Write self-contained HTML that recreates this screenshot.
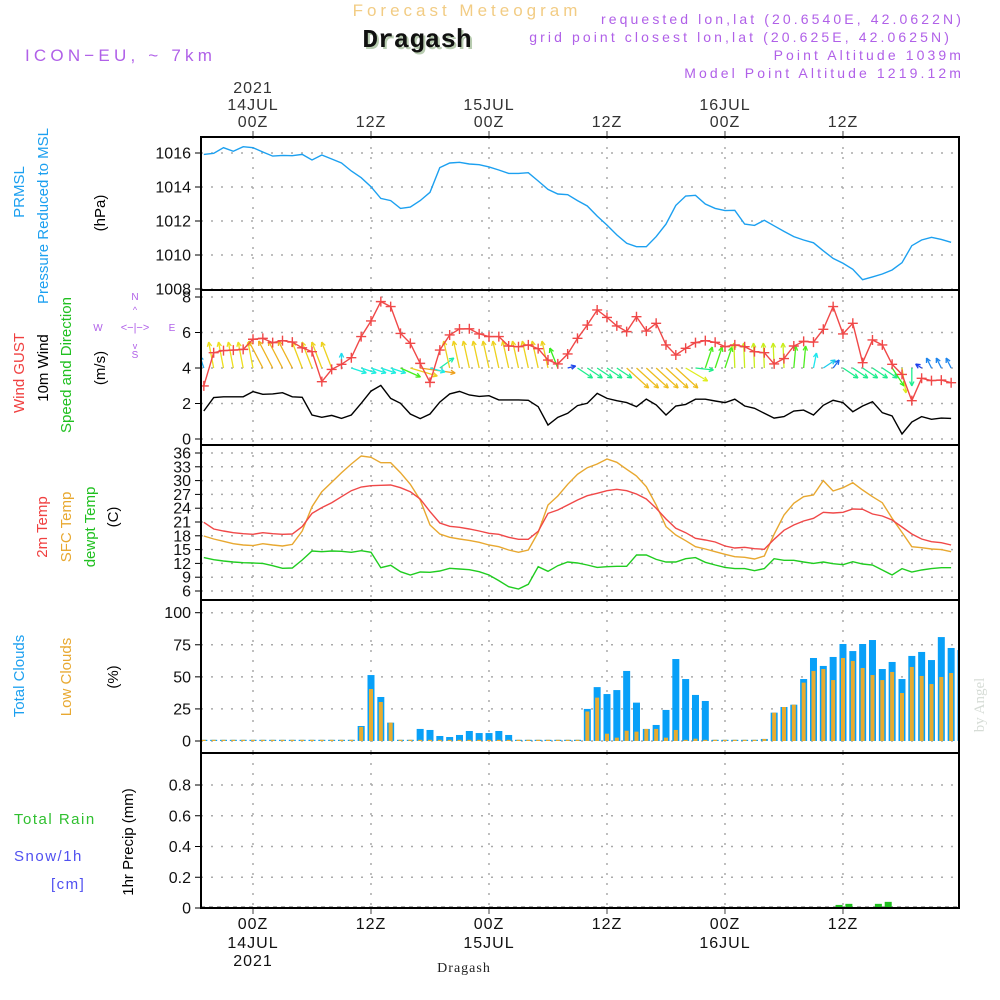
<!DOCTYPE html>
<html><head><meta charset="utf-8">
<style>
html,body{margin:0;padding:0;background:#fff;}
svg{display:block;}
text{font-family:"Liberation Sans",sans-serif;}
</style></head>
<body>
<svg id="chart" xmlns="http://www.w3.org/2000/svg" width="1000" height="1000" viewBox="0 0 1000 1000">
<g id="header">
<text x="467" y="16" text-anchor="middle" font-size="17" letter-spacing="4" fill="#f2cc84">Forecast Meteogram</text>
<text x="419" y="49" text-anchor="middle" font-size="26" font-weight="bold" fill="#b8ccb0" style="font-family:'Liberation Mono',monospace">Dragash</text>
<text x="417" y="47" text-anchor="middle" font-size="26" font-weight="bold" fill="#111" style="font-family:'Liberation Mono',monospace">Dragash</text>
<text x="25" y="61" font-size="17" letter-spacing="4.2" fill="#b060e8">ICON−EU, ~ 7km</text>
<text x="964" y="24" text-anchor="end" font-size="14" letter-spacing="3.1" fill="#b060e8">requested lon,lat (20.6540E, 42.0622N)</text>
<text x="952" y="42" text-anchor="end" font-size="14" letter-spacing="3.1" fill="#b060e8">grid point closest lon,lat (20.625E, 42.0625N)</text>
<text x="964" y="60" text-anchor="end" font-size="14" letter-spacing="3.1" fill="#b060e8">Point Altitude 1039m</text>
<text x="964" y="78" text-anchor="end" font-size="14" letter-spacing="3.1" fill="#b060e8">Model Point Altitude 1219.12m</text>
</g>
<g id="left-labels" font-size="15">
<text transform="translate(24,192) rotate(-90)" text-anchor="middle" fill="#1ca0f0">PRMSL</text>
<text transform="translate(48,216) rotate(-90)" text-anchor="middle" fill="#1ca0f0">Pressure Reduced to MSL</text>
<text transform="translate(105,213) rotate(-90)" text-anchor="middle" fill="#000">(hPa)</text>
<text transform="translate(24,373) rotate(-90)" text-anchor="middle" fill="#f04040">Wind GUST</text>
<text transform="translate(48,368) rotate(-90)" text-anchor="middle" fill="#000">10m Wind</text>
<text transform="translate(71,365) rotate(-90)" text-anchor="middle" fill="#20c020">Speed and Direction</text>
<text transform="translate(105,368) rotate(-90)" text-anchor="middle" fill="#000">(m/s)</text>
<g fill="#b060e8" font-size="10" text-anchor="middle">
<text x="135" y="300">N</text><text x="135" y="358">S</text><text x="98" y="331">W</text><text x="172" y="331">E</text>
<text x="135" y="331" font-size="11">&lt;−|−&gt;</text><text x="135" y="313" font-size="9">^</text><text x="135" y="349" font-size="9">v</text>
</g>
<text transform="translate(47,527) rotate(-90)" text-anchor="middle" fill="#f04040">2m Temp</text>
<text transform="translate(71,527) rotate(-90)" text-anchor="middle" fill="#e8a830">SFC Temp</text>
<text transform="translate(95,527) rotate(-90)" text-anchor="middle" fill="#20c020">dewpt Temp</text>
<text transform="translate(118,517) rotate(-90)" text-anchor="middle" fill="#000">(C)</text>
<text transform="translate(24,676) rotate(-90)" text-anchor="middle" fill="#1ca0f0">Total Clouds</text>
<text transform="translate(71,677) rotate(-90)" text-anchor="middle" fill="#e8a830">Low Clouds</text>
<text transform="translate(118,677) rotate(-90)" text-anchor="middle" fill="#000">(%)</text>
<text x="14" y="824" letter-spacing="1.5" fill="#30c030">Total  Rain</text>
<text x="14" y="861" letter-spacing="1.5" fill="#5050f0">Snow/1h</text>
<text x="51" y="889" letter-spacing="1.5" fill="#5050f0">[cm]</text>
<text transform="translate(133,842) rotate(-90)" text-anchor="middle" fill="#000">1hr Precip (mm)</text>
<text transform="translate(984,705) rotate(-90)" text-anchor="middle" font-size="15" fill="#d6dcd6" style="font-family:'Liberation Serif',serif">by Angel</text>
</g>
<g id="plot"></g>
</svg>
<script>
// ---- data (hourly, starting at hour -5 relative to 14JUL 00Z) ----
const startHour = -5;
const pressure = [1015.92,1015.98,1016.31,1016.1,1016.37,1016.31,1016.06,1015.82,1015.86,1015.84,1015.92,1015.59,1015.88,1015.65,1015.41,1014.94,1014.55,1014.02,1013.33,1013.2,1012.74,1012.82,1013.2,1013.69,1015.14,1015.41,1015.45,1015.35,1015.31,1015.18,1015.0,1014.8,1014.8,1014.84,1014.35,1013.86,1013.59,1013.55,1013.2,1012.88,1012.29,1011.76,1011.18,1010.69,1010.49,1010.49,1011.08,1011.82,1012.92,1013.47,1013.51,1013.0,1012.74,1012.61,1012.63,1011.82,1011.74,1012.04,1011.72,1011.39,1011.08,1010.88,1010.72,1010.25,1009.8,1009.51,1009.16,1008.55,1008.71,1008.88,1009.12,1009.55,1010.55,1010.88,1011.04,1010.92,1010.75];
const gust = [2.99,4.86,4.98,5.01,5.05,5.62,5.67,5.43,5.54,5.46,5.14,4.92,3.23,3.92,4.21,4.58,5.77,6.65,7.74,7.46,5.95,5.39,4.26,3.19,5.01,5.86,6.2,6.21,5.92,5.77,5.77,5.24,5.2,5.3,5.09,4.45,4.23,4.79,5.67,6.42,7.27,6.85,6.37,6.05,6.89,6.08,6.52,5.3,4.73,5.11,5.43,5.54,5.45,5.2,5.3,5.2,4.92,4.86,4.23,4.53,5.24,5.5,5.46,6.18,7.46,5.92,6.52,4.3,5.58,5.3,4.21,3.64,2.16,3.42,3.29,3.32,3.17];
const wind10m = [1.58,2.33,2.38,2.38,2.38,2.67,2.52,2.54,2.61,2.38,2.35,1.35,1.22,1.33,1.16,1.35,2.01,2.7,3.02,2.29,2.01,1.41,1.15,1.41,2.08,2.54,2.68,2.48,2.4,2.44,2.2,2.2,2.2,2.18,1.82,0.79,1.22,1.45,1.88,2.01,2.57,2.29,2.16,2.05,1.82,2.25,1.92,1.35,1.86,1.95,2.24,2.24,2.14,2.05,2.24,1.86,1.73,1.45,1.18,1.26,1.58,1.63,1.35,1.9,2.18,2.05,1.54,1.86,2.1,1.48,1.3,0.28,0.96,1.26,1.11,1.18,1.16];
const windU = [-4,-5,-5,-5,-5,-5,-14,-14,-14,-14,-10,-10,-10,-10,0,15,15,15,15,15,20,27,35,15,14,-6,-6,-6,-6,-6,-6,-6,-6,-6,-6,-6,-8,8,15,15,15,15,15,22,22,22,22,22,22,22,18,7,7,7,-1,-1,-1,-1,-1,-1,2,2,3,12,6,15,15,15,15,15,12,4,0,-6,-5,-5,-5];
const windV = [12,26,26,26,26,26,27,27,27,27,26,26,26,26,15,-5,-5,-5,-5,-5,-9,-8,-5,-4,10,27,27,27,27,27,27,27,27,27,27,27,20,2,-10,-10,-10,-10,-10,-20,-20,-20,-20,-20,-20,-13,-2,21,21,21,25,25,25,25,25,25,22,22,15,8,8,-10,-10,-10,-10,-10,-18,-25,-18,4,10,10,10];
const temp2m = [20.93,19.48,19.04,18.68,18.46,18.32,18.68,18.46,18.32,18.39,19.99,22.88,24.12,25.2,26.51,27.81,28.61,28.9,28.97,29.04,28.46,27.59,26,23.25,20.78,20.06,19.84,19.48,19.04,18.54,18.32,17.67,17.23,17.23,18.97,22.88,23.61,24.7,25.78,26.72,27.23,27.81,28.1,27.81,27.09,26,23.97,21.65,19.62,18.68,17.45,17.09,16.65,15.78,15.35,15.49,15.2,15.06,17.23,19.19,20.35,21.22,21.8,23.1,22.96,23.1,23.83,23.76,22.74,22.3,21.43,19.91,18.39,17.3,16.72,16.51,16];
const tempSfc = [17.96,17.3,16.8,16.29,16,15.86,16.29,16,15.78,16.14,19.04,24.33,27.59,29.62,31.72,33.61,35.35,35.06,33.9,33.9,31.72,29.19,25.78,20.35,18.39,17.67,17.3,17.01,16.58,16,15.64,14.91,14.41,14.91,18.75,24.7,26.65,29.19,31.36,32.81,33.61,34.7,33.97,32.45,31,28.68,24.7,19.99,18.17,16.94,15.64,15.13,14.55,13.97,13.46,13.32,12.96,13.61,18.32,22.52,25.06,26.51,26.87,29.99,27.74,28.46,29.55,27.96,26.51,25.2,21.8,18.75,15.64,15.42,15.13,14.99,14.55];
const dewpt = [13.25,12.81,12.52,12.3,12.16,12.09,12.01,11.51,10.93,11,12.74,14.7,14.55,14.7,14.62,14.41,14.77,14.41,11.07,11.58,10.2,9.48,10.13,10.06,10.35,10.93,10.78,10.64,10.2,9.48,8.25,6.94,6.43,7.45,11.29,10.28,11.51,12.3,12.09,11.65,11.14,11.29,11.36,11.36,13.83,13.83,12.88,12.3,12.3,13.03,13.25,12.23,11.65,11.14,10.86,10.86,10.42,10.86,13.03,12.67,12.67,12.3,12.01,12.3,11.94,11.72,12.38,11.87,11.65,10.57,9.48,10.86,10.13,10.57,10.86,11.07,11.07];
const cloudTotal = [0,0,0,0,0,0,0,0,0,0,0,0,0,0,0,0,11.7,51.4,34.3,14.3,0,0,9.4,8.6,3.9,3.1,4.7,7.8,6.2,6.2,7.8,4.7,0,0,0,0,0,0,0,25,42,36.6,39.7,54.6,29.9,9.4,12.5,24.2,63.9,48.3,35.9,31.2,0,0,0,0,0,1.6,22.1,26.5,28.3,48.3,64.7,58.5,65.5,75.6,70.1,75.6,78.7,56.1,61.6,48.3,66.3,69.4,63.1,81,72.5,70.9];
const cloudLow = [0,0,0,0,0,0,0,0,0,0,0,0,0,0,0,0,11,40.5,30.4,14.3,0,0,0,0,0,0,0,0,0,0,0,0,0,0,0,0,0,0,0,23,33.8,5.7,2.6,8,7.3,9.4,9.4,2.6,8.6,0,1.8,0,0,0,0,0,0,1.6,22.1,26.5,28.3,45.5,54.6,56.1,47.5,64.7,62.4,56.9,51.4,47.5,53.8,37.4,57.7,50.7,44.4,49.9,53,63.3];
const precipHours = [12.7,59.6,60.6,63.6,64.6];
const precipValues = [0.004,0.02,0.027,0.027,0.04];
const pressTicks = [1016,1014,1012,1010,1008];
const windTicks = [8,6,4,2,0];
const tempTicks = [36,33,30,27,24,21,18,15,12,9,6];
const cloudTicks = [100,75,50,25,0];
const precipTicks = [0.8,0.6,0.4,0.2,0];
const timeTickHours = [0,12,24,36,48,60];
const timeTickLabels = ["00Z","12Z","00Z","12Z","00Z","12Z"];
const dateLabels = ["14JUL","","15JUL","","16JUL",""];

// ---- axes ----
const NS = "http://www.w3.org/2000/svg";
const X0 = 201, X1 = 959;
const xh = h => 253 + h * 9.833;
const yP = v => 153 + (1016 - v) * 17;
const yW = v => 439 - v * 17.75;
const yT = v => 453 + (36 - v) * 4.6;
const yC = v => 741 - v * 1.283;
const yR = v => 908 - v * 153.75;
const panels = [
  {name:"pressure", top:137, bot:290, ticks:pressTicks, fy:yP, fmt:v=>String(v)},
  {name:"wind", top:290, bot:445, ticks:windTicks, fy:yW, fmt:v=>String(v)},
  {name:"temperature", top:445, bot:600, ticks:tempTicks, fy:yT, fmt:v=>String(v)},
  {name:"clouds", top:600, bot:753, ticks:cloudTicks, fy:yC, fmt:v=>String(v)},
  {name:"precip", top:753, bot:908, ticks:precipTicks, fy:yR, fmt:v=>v===0?"0":v.toFixed(1)}
];
const plot = document.getElementById("plot");
function mk(tag, attrs, parent){
  const e = document.createElementNS(NS, tag);
  for (const k in attrs) e.setAttribute(k, attrs[k]);
  (parent||plot).appendChild(e);
  return e;
}
const defs = mk("defs", {});
panels.forEach((p,i)=>{
  const cp = mk("clipPath", {id:"clip"+i}, defs);
  mk("rect", {x:X0, y:p.top, width:X1-X0, height:p.bot-p.top}, cp);
});

panels.forEach((p,i)=>{
  const g = mk("g", {});
  
  
  p.ticks.forEach(t=>{
    const y = p.fy(t);
    const gl = mk("line", {x1:X0, x2:X1, y1:y, y2:y, stroke:"#aaa", "stroke-width":1.5, "stroke-dasharray":"2,8"}, g);
    
    
    mk("line", {x1:X0-6, x2:X0, y1:y, y2:y, stroke:"#000", "stroke-width":1}, g);
    const tl = mk("text", {x:X0-10, y:y+5.5, "text-anchor":"end", "font-size":16, fill:"#111"}, g);
    tl.textContent = p.fmt(t);
    
    
  });
  timeTickHours.forEach(h=>{
    const vl = mk("line", {x1:xh(h), x2:xh(h), y1:p.top, y2:p.bot, stroke:"#aaa", "stroke-width":1.5, "stroke-dasharray":"2,8"}, g);
    
    
  });
});

// time labels top & bottom
timeTickHours.forEach((h,i)=>{
  const x = xh(h);
  mk("line", {x1:x, x2:x, y1:131, y2:137, stroke:"#444"});
  mk("line", {x1:x, x2:x, y1:908, y2:914, stroke:"#444"});
  const t = mk("text", {x:x, y:127, "text-anchor":"middle", "font-size":16, "letter-spacing":1, fill:"#333"});
  t.textContent = timeTickLabels[i];
  
  
  const b = mk("text", {x:x, y:929, "text-anchor":"middle", "font-size":16, "letter-spacing":1, fill:"#111"});
  b.textContent = timeTickLabels[i];
  
  
  if (dateLabels[i]) {
    const d = mk("text", {x:x, y:110, "text-anchor":"middle", "font-size":16, "letter-spacing":1, fill:"#333"});
    d.textContent = dateLabels[i];
    
    
    const d2 = mk("text", {x:x, y:948, "text-anchor":"middle", "font-size":16, "letter-spacing":1, fill:"#111"});
    d2.textContent = dateLabels[i];
    
    
  }
});
const yr1 = mk("text", {x:xh(0), y:93, "text-anchor":"middle", "font-size":16, "letter-spacing":1, fill:"#333"});
yr1.textContent = "2021";


const yr2 = mk("text", {x:xh(0), y:966, "text-anchor":"middle", "font-size":16, "letter-spacing":1, fill:"#111"});
yr2.textContent = "2021";


const loc = mk("text", {x:464, y:972, "text-anchor":"middle", "font-size":14, "letter-spacing":1, fill:"#222", style:"font-family:'Liberation Serif',serif"});
loc.textContent = "Dragash";



function polyline(arr, fy, color, clip, name, w){
  const pts = arr.map((v,i)=>xh(startHour+i).toFixed(1)+","+fy(v).toFixed(1)).join(" ");
  const l = mk("polyline", {points:pts, fill:"none", stroke:color, "stroke-width":w||1.4, "clip-path":"url(#clip"+clip+")"});
  
  
  return l;
}
polyline(pressure, yP, "#1ca0f0", 0, "pressure-line");

// wind arrows
function arrowColor(L){
  const st=[[8,230],[15,185],[21,120],[26,58],[32,38]];
  let hue=st[0][1];
  if (L>=st[st.length-1][0]) hue=st[st.length-1][1];
  else for(let k=0;k<st.length-1;k++){ if(L>=st[k][0]&&L<st[k+1][0]){const t=(L-st[k][0])/(st[k+1][0]-st[k][0]); hue=st[k][1]+t*(st[k+1][1]-st[k][1]);} }
  return "hsl("+hue.toFixed(0)+",85%,52%)";
}
const ga = mk("g", {"clip-path":"url(#clip1)"});


windU.forEach((u,i)=>{
  const v = windV[i];
  const x = xh(startHour+i), y = yW(4);
  const x2 = x+u, y2 = y-v;
  const L = Math.hypot(u,v) || 1;
  const col = arrowColor(L);
  const a = mk("g", {stroke:col, "stroke-width":1.3, fill:"none"}, ga);
  
  
  mk("line", {x1:x, y1:y, x2:x2, y2:y2}, a);
  const ux=u/L, uy=-v/L, hl=5;
  [0.45,-0.45].forEach(ang=>{
    const c=Math.cos(ang), s=Math.sin(ang);
    const dx=-(ux*c - uy*s)*hl, dy=-(ux*s + uy*c)*hl;
    mk("line", {x1:x2, y1:y2, x2:x2+dx, y2:y2+dy}, a);
  });
});
polyline(wind10m, yW, "#000", 1, "wind-10m-line");
polyline(gust, yW, "#f04848", 1, "wind-gust-line");
const gm = mk("g", {stroke:"#f04848", "stroke-width":1.4, "clip-path":"url(#clip1)"});


gust.forEach((v,i)=>{
  const x=xh(startHour+i), y=yW(v);
  const m = mk("path", {d:`M${x-5},${y}H${x+5}M${x},${y-5}V${y+5}`}, gm);
  
  
});

polyline(dewpt, yT, "#20cc20", 2, "dewpoint-line");
polyline(tempSfc, yT, "#e8a830", 2, "sfc-temp-line");
polyline(temp2m, yT, "#f04848", 2, "temp-2m-line");

// clouds
const gc = mk("g", {"clip-path":"url(#clip3)"});


cloudTotal.forEach((v,i)=>{
  const x = xh(startHour+i);
  const h = Math.max(yC(0)-yC(v), 1.2);
  const b = mk("rect", {x:x-3.5, y:yC(0)-h, width:7, height:h, fill:"#08a0f8"}, gc);
  
  
  const lv = cloudLow[i];
  const h2 = Math.max(yC(0)-yC(lv), 1.2);
  const b2 = mk("rect", {x:x-2, y:yC(0)-h2, width:4, height:h2, fill:"#e8ac30"}, gc);
  
  
});

// precip
const gr = mk("g", {"clip-path":"url(#clip4)"});


mk("line", {x1:X0, x2:X1, y1:907, y2:907, stroke:"#555", "stroke-width":1, "stroke-dasharray":"4,4"}, gr);
precipHours.forEach((h,i)=>{
  const x = xh(h);
  const hh = Math.max(yR(0)-yR(precipValues[i]), 1);
  const b = mk("rect", {x:x-3.5, y:yR(0)-hh, width:7, height:hh, fill:"#20c020"}, gr);
  
  
});

// panel borders
panels.forEach(p=>{
  const r = mk("rect", {x:X0, y:p.top, width:X1-X0, height:p.bot-p.top, fill:"none", stroke:"#000", "stroke-width":2});
  
  
});
</script>
</body></html>
